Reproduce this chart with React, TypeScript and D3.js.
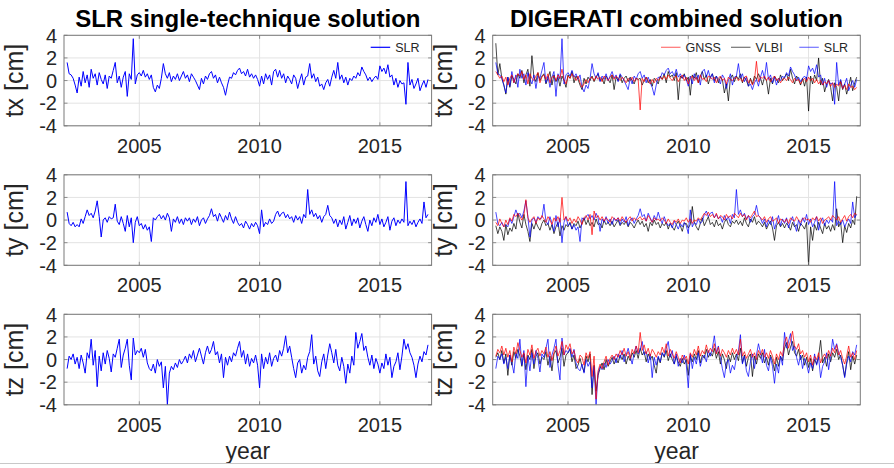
import React from "react";
import * as d3 from "d3";

const W = 894;
const H = 468;
const FONT = "'Liberation Sans', Arial, sans-serif";
const TXT = "#262626";

// monthly samples, 2002.0 .. 2017.0
const START_YEAR = 2002;
const N = 181;
const years = d3.range(N).map((i) => START_YEAR + i / 12);

const yTicks = [4, 2, 0, -2, -4];
const xTicks = [2005, 2010, 2015];

// SLR single-technique (also drawn as SLR in the combined panels)
const slrTx = [
  1.6, 0.6, 0.5, 0.2, -0.4, -1.1, 0.3, -0.5, 0.8, -0.2, 0.5, -0.6,
  1.0, 0.2, 0.6, -0.4, 0.7, 0.1, -0.3, 0.5, -0.7, 0.4, 0.2, 0.9,
  1.6, -0.2, 0.4, -0.6, 0.3, 0.8, -1.4, 0.6, 0.1, 3.7, -0.3, 0.5,
  0.7, 0.4, 0.9, 0.3, 0.6, 0.1, 0.5, -0.6, -1.0, -0.4, -0.7, 0.2,
  1.5, 0.6, 0.2, 0.7, -0.1, 0.4, 0.1, 0.6, 0.0, 0.4, 0.8, 0.2,
  0.5, -0.1, 0.6, 0.3, 0.0, -0.4, -0.8, 0.2, -0.3, 0.4, 0.1, 0.6,
  0.8, 0.2, 0.5, -0.2, 0.3, -0.2, -0.6, -1.3, -0.4, 0.3, 0.2, 0.7,
  0.5, 0.9, 1.1, 0.6, 0.8, 0.4, 1.0, 0.3, 0.6, 0.2, 0.5, 0.1,
  -0.5, 0.4, -0.3, 0.6, 0.1, 0.5, -0.4, 0.8, 1.0, 0.3, 0.9, 0.2,
  0.6, -0.2, 0.4, 0.1, -0.3, 0.5, 0.2, -0.7, 0.0, 0.6, -0.4, 0.3,
  0.4, 1.5, 0.2, 0.6, -0.1, 0.3, -0.5, -0.3, -0.8, -0.2, 0.1, -0.5,
  0.3, 0.9, 0.2, 1.6, 0.1, 0.5, -0.2, 0.3, -0.4, 0.2, 0.0, 0.4,
  0.2, 0.7, 0.4, 1.2, 0.8, 0.5, 0.0, 0.3, -0.1, 0.2, 0.4, 0.1,
  1.3, 0.8, 1.1, 0.6, 1.4, 0.3, 0.5, -0.4, 0.2, -0.6, 0.0, -0.3,
  -0.2, -2.1, 1.6, -0.4, 0.1, -0.7, -0.3, 0.2, -0.9, -0.4, 0.0, -0.6,
  0.1,
];
const slrTy = [
  0.7, -0.3, -0.5, -0.2, -0.6, -0.4, -0.6, 0.1, -0.3, 0.3, 0.9, 0.4,
  0.6, 0.2, 0.8, 1.7, 0.3, -1.5, 0.0, 0.2, -0.2, 0.3, 0.1, 0.2,
  1.4, -0.1, -0.4, 0.3, -0.3, -1.0, 0.4, -0.6, 0.2, -2.0, -0.2, 0.3,
  -0.5, -0.3, -0.8, -0.4, -0.9, -0.6, -1.9, 0.2, 0.0, 0.3, 0.5, 0.1,
  0.4, 0.0, 0.6, 0.2, -1.0, 0.1, -0.2, 0.3, -0.3, 0.1, -0.4, 0.2,
  -0.1, 0.2, -0.4, 0.1, -0.2, 0.3, -0.5, 0.0, 0.2, -0.3, 0.1, 0.4,
  1.0, 0.3, 0.5, -0.1, 0.6, 0.2, -0.2, 0.4, 0.0, 0.7, 0.1, -0.3,
  0.3, -0.2, -0.5, -0.3, -0.7, -0.1, -0.4, -0.8, -0.3, -0.6, -0.2, -0.5,
  -1.2, 0.9, -0.6, -0.2, -0.4, 0.1, -0.3, -0.1, 0.5, 0.8, 0.3, 0.6,
  0.7, 0.2, 0.5, 0.1, 0.3, -0.2, 0.4, 0.0, 0.3, -0.3, 0.5, 0.2,
  2.7, 0.5, 0.9, 0.3, 0.6, 0.1, 0.4, -0.2, 0.3, 0.5, 1.3, 0.4,
  0.2, -0.3, 0.1, -0.6, 0.0, -0.4, 0.3, -0.8, -0.2, 0.4, -0.5, 0.1,
  -0.3, 0.2, -0.7, -0.1, 0.3, -0.4, -1.0, 0.0, -0.5, 0.2, -0.2, 0.5,
  -0.4, 0.1, -0.6, -0.2, 0.3, -0.9, -0.1, 0.2, -0.5, 0.0, -0.3, 0.1,
  -0.2, 3.4, -0.5, -0.1, -0.4, 0.0, -0.6, -0.2, 0.1, -0.3, 1.6, 0.2,
  0.5,
];
const slrTz = [
  -0.8, 0.3, 0.0, 0.5, -0.4, 0.2, -0.8, 0.4, -0.3, -1.2, 0.6, 0.1,
  1.8, -0.5, 0.8, -2.4, 0.3, -1.0, 0.6, -0.4, 0.8, 0.1, -1.1, 0.5,
  0.2, 1.0, 1.8, -0.7, 0.4, 1.0, 1.8, -0.5, -1.8, 1.9, 0.4, 0.8,
  0.6, 1.0, 0.2, 0.9, -0.3, -0.8, -1.0, -0.4, -1.2, 0.0, -0.6, -0.2,
  -2.5, -0.6, -4.0, -1.2, -0.6, -0.9, -0.3, -0.7, 0.0, -0.4, -0.1, 0.3,
  -0.3, 0.5, 0.1, 0.8, -0.2, 0.4, 1.0, 0.3, -0.4, 0.6, 1.2, 0.5,
  0.9, 1.6, 0.4, 0.7, -0.3, 0.5, -1.6, 0.2, -0.5, 0.3, -0.2, 0.6,
  0.3, 1.0, 1.6, 0.2, 0.8, -0.4, 0.5, -0.6, 0.1, -0.3, 0.4, -0.5,
  -2.5, 0.5, -0.8, 0.2, -0.4, 0.6, -0.6, 0.1, 0.4, -0.2, 0.8, 0.3,
  1.0, 2.1, 0.6, 1.2, 0.2, -0.8, -1.6, -0.3, 0.0, -1.2, -0.5, -0.9,
  0.2, 0.7, 2.2, -0.4, 0.3, -1.0, -1.5, -0.2, 0.5, -0.8, 0.4, 1.4,
  0.6, -0.3, 0.9, -0.5, -1.0, 0.2, -0.6, -2.1, -0.4, -1.2, 0.3, -0.5,
  2.4, 1.0, 1.6, 2.3, 0.8, 1.2, 0.2, -0.5, 0.4, -0.8, 0.1, -0.4,
  -1.2, -0.3, -0.8, 0.5, -0.5, 0.2, -1.6, -0.6, -0.2, 0.6, -0.9, 0.3,
  1.8, 0.9, 1.4, 0.6, 0.2, -0.5, -1.6, -0.4, 0.3, -0.2, 0.7, 0.4,
  1.3,
];

// DIGERATI combined: GNSS
const gnssTx = [
  0.8, 0.5, 0.2, 0.4, -0.1, 0.3, -0.4, 0.2, 0.5, -0.2, 0.3, 0.6,
  0.4, 0.8, 0.1, 0.5, -0.3, 0.6, 0.2, 0.0, 0.4, 0.7, -0.2, 0.3,
  0.5, 0.1, 0.6, -0.2, 0.3, 0.4, 0.0, 0.5, 0.2, 1.0, 0.1, -0.3,
  0.4, 0.2, 0.6, 0.3, 0.0, 0.4, -0.2, -0.6, -0.3, 0.1, -0.2, 0.2,
  0.3, 0.0, 0.4, 0.1, 0.3, -0.1, 0.4, 0.2, 0.0, 0.3, 0.5, 0.1,
  0.4, 0.2, 0.0, 0.3, 0.1, -0.2, 0.2, 0.0, 0.3, -0.1, 0.2, 0.1,
  -2.6, 0.2, -0.1, 0.3, 0.0, -0.3, 0.1, -0.2, 0.2, 0.0, 0.3, 0.1,
  0.4, 0.1, 0.5, 0.2, 0.0, 0.3, 0.4, -0.1, 0.2, 0.5, 0.0, 0.3,
  -0.3, 0.2, 0.4, 0.0, 0.3, -0.2, 0.5, 0.1, 0.2, -0.1, 0.4, 0.3,
  0.1, 0.3, -0.2, 0.2, 0.4, 0.0, 0.2, -0.3, 0.3, 0.1, 0.0, 0.2,
  0.3, 0.0, 0.2, -0.1, 0.3, 0.4, -0.2, 0.1, -0.4, 0.0, 1.7, -0.1,
  0.3, 0.2, 0.4, 0.0, 0.3, -0.1, 0.2, 0.4, 0.0, 0.2, -0.2, 0.1,
  0.2, 0.0, 0.3, 0.1, -0.2, 0.2, 0.0, 0.1, -0.3, 0.0, 0.2, -0.1,
  0.3, 0.0, 0.2, -0.2, 0.1, -0.3, 0.0, -0.4, -0.1, -0.3, 0.0, -0.5,
  -0.2, -0.6, -0.3, -0.5, -0.1, -0.7, -0.4, -0.8, -0.3, -0.6, -0.5, -0.8,
  -0.6,
];
const gnssTy = [
  -0.2, -0.5, 0.1, -0.3, -0.6, 0.0, -0.4, 0.2, -0.1, 0.5, 0.3, 0.6,
  0.3, 0.0, 0.4, 1.8, 0.2, -0.2, 0.1, 0.3, -0.3, 0.2, 0.0, 0.4,
  0.1, -0.2, 0.3, 0.0, -0.4, 0.2, -0.1, 0.3, -0.2, 2.0, 0.0, 0.3,
  -0.1, 0.2, -0.3, 0.1, -0.2, 0.3, 0.0, -0.4, 0.2, 0.4, 0.0, 0.5,
  -1.3, 0.8, 0.2, 0.4, 0.0, 0.3, -0.1, 0.2, 0.0, -0.2, 0.3, 0.1,
  0.0, 0.2, -0.1, 0.3, 0.0, -0.2, 0.1, 0.3, -0.1, 0.2, 0.0, 0.1,
  0.3, 0.0, 0.2, -0.1, 0.4, 0.1, -0.2, 0.2, 0.0, 0.1, -0.1, 0.2,
  0.0, -0.3, 0.1, -0.2, -0.4, 0.0, -0.2, 0.1, -0.3, 0.0, -0.1, 0.2,
  -0.2, 0.1, -0.3, 0.0, -0.1, 0.2, 0.0, 0.3, 0.6, 0.4, 0.7, 0.3,
  0.5, 0.2, 0.6, 0.1, 0.4, 0.3, 0.0, 0.5, 0.2, 0.4, 0.1, 0.6,
  0.4, 0.2, 0.6, 0.3, 0.5, 0.0, 0.4, 0.2, 0.5, 0.8, 0.3, 0.4,
  0.2, 0.0, 0.3, -0.2, 0.1, 0.3, -0.1, 0.0, 0.2, -0.3, 0.1, 0.0,
  -0.2, 0.1, -0.3, 0.2, 0.0, -0.1, 0.3, 0.0, -0.2, 0.1, 0.2, 0.0,
  0.1, -0.2, 0.2, 0.0, 0.3, -0.1, 0.2, -0.3, 0.0, 0.1, 0.3, 0.0,
  0.4, 0.2, 0.0, 0.3, -0.2, 0.1, 0.4, -0.1, 0.3, 0.5, 0.2, 0.6,
  0.5,
];
const gnssTz = [
  0.3, 0.9, 0.6, 1.2, 0.4, 1.0, 0.2, 0.8, -0.2, 1.1, 0.5, 1.5,
  0.8, 0.2, 0.6, -0.3, 0.9, 0.4, 1.3, 0.1, 0.7, 1.0, 0.3, 0.8,
  0.5, 1.1, 0.2, 0.7, -0.1, 0.6, 1.2, 0.3, 0.8, 1.6, 0.4, 1.3,
  0.9, 1.4, 0.5, 0.8, 0.0, -0.3, 0.4, 0.2, -0.5, 0.6, 0.1, 0.7,
  -1.5, 0.3, -3.5, -1.0, -0.4, -0.8, -0.2, 0.3, -0.5, 0.1, 0.4, 0.0,
  0.5, 0.2, 0.8, 0.4, 1.0, 0.3, 0.7, 0.1, 0.9, 0.5, 1.2, 0.6,
  2.4, 0.8, 1.3, 0.5, 1.0, 0.3, 0.9, 0.6, 0.2, 0.7, 0.4, 1.1,
  0.6, 1.4, 0.3, 0.9, 0.5, 0.1, 0.7, 0.2, -0.3, 0.4, 0.0, 0.3,
  -0.4, 0.6, 0.2, 0.9, 0.4, 1.2, 0.3, 0.8, 0.5, 1.3, 0.6, 1.0,
  0.7, 1.4, 0.5, 1.1, 0.3, 0.9, 0.6, 0.2, 0.8, 0.4, 1.0, 0.5,
  0.9, 0.4, 1.8, 0.3, 0.7, 0.1, 0.5, 0.9, 0.2, 0.6, 0.0, 0.8,
  0.4, 0.9, 0.2, 0.6, 0.1, 0.8, 0.3, -0.4, 0.5, 0.0, 0.7, 0.3,
  1.5, 2.0, 1.0, 1.7, 2.5, 1.2, 0.9, 1.4, 0.5, 0.8, 0.2, 0.6,
  -0.2, 0.4, -0.5, 0.3, 0.0, 0.6, -0.3, 0.2, 0.5, 0.1, 0.8, 0.3,
  1.0, 0.6, 1.3, 0.4, 0.8, 0.1, -0.4, 0.3, 1.2, 0.2, 0.6, 0.0,
  0.8,
];

// DIGERATI combined: VLBI
const vlbiTx = [
  3.3, 0.5, 1.5, 0.2, -0.4, -1.2, 0.3, -0.6, 0.4, 0.1, -0.3, 0.6,
  0.2, 0.9, -0.2, 0.5, 1.0, -0.5, 2.2, 0.3, -0.1, 0.7, 0.0, 0.4,
  0.6, -0.3, 0.2, 0.8, -0.4, 0.5, -0.1, 0.3, -0.5, 0.4, 0.0, -0.6,
  0.5, 0.2, 0.8, -0.2, 0.4, 0.1, -0.4, -0.8, 0.2, -0.3, 0.3, 0.0,
  0.4, -0.1, 0.3, 0.6, 0.0, 0.2, -0.3, 0.4, 0.1, -0.2, 0.5, -0.8,
  0.3, 0.0, 0.5, -0.2, 0.2, 0.4, -0.1, 0.3, 0.0, -0.3, 0.2, 0.1,
  0.2, -0.4, 0.0, 0.3, -0.2, 0.1, -0.5, 0.2, 0.0, -0.3, 0.4, 0.1,
  0.6, -0.2, 0.8, 0.3, 0.5, 0.0, 0.7, -1.7, 0.4, 0.2, 0.6, 0.0,
  0.3, -1.3, 0.5, 0.2, 0.7, -0.2, 0.4, 0.8, 0.1, 0.5, -0.3, 0.3,
  0.6, 0.0, 0.4, -0.2, 0.3, 0.1, -1.1, -0.3, -1.8, 0.2, 0.5, -0.1,
  0.4, 0.1, 0.6, -0.2, 0.3, 0.0, -0.5, 0.2, -0.3, 0.4, 0.1, 0.6,
  0.2, -0.4, 0.3, 0.0, -1.2, 0.2, -0.3, 0.4, 0.1, -0.2, 0.5, 0.0,
  0.3, 0.6, 0.0, 1.0, 0.2, -0.3, 0.4, 0.1, -0.4, 0.2, -0.5, 0.3,
  -2.7, 0.4, -0.3, 0.5, 0.0, 2.0, -0.4, 0.2, -1.0, -0.3, 0.1, -0.6,
  -1.8, -0.2, -0.6, -1.8, 0.0, -0.8, -0.3, -1.2, -0.5, 0.3, -0.9, -0.2,
  0.3,
];
const vlbiTy = [
  -0.5, -1.2, -0.6, -1.0, -1.8, -0.4, -1.3, -0.7, -1.0, -0.3, -0.8, 0.6,
  -0.2, -0.7, 0.5, -0.4, -1.0, -1.9, -0.3, -0.8, -0.2, -0.6, -0.9, -0.3,
  0.0, -0.5, -0.3, -0.9, -0.4, -1.2, -0.6, -0.2, -1.4, -0.5, -0.9, -0.4,
  -0.6, -0.2, -0.8, -0.3, -0.5, -0.1, -0.7, -0.3, 0.2, -0.4, 0.0, -0.5,
  -0.2, -0.6, 0.1, -0.4, -0.3, -0.7, 0.0, -0.4, -0.2, -0.5, -0.1, -0.6,
  -0.3, 0.0, -0.5, -0.2, -0.4, -0.1, -0.6, -0.2, -0.4, -0.7, -0.3, 0.0,
  -0.4, -0.1, -0.6, -0.3, -1.0, -0.2, -0.5, 0.0, -0.4, -0.2, -0.7, -0.3,
  -0.5, -0.2, -0.8, -0.3, -0.6, -0.9, -0.4, -0.1, -0.5, -1.0, -0.3, -0.3,
  -0.7, -0.4, 1.2, -0.2, -0.6, -0.9, -0.3, 0.2, -0.5, -0.1, 0.3, -0.4,
  -0.2, -0.6, 0.0, -0.5, -0.3, -0.8, -0.2, 0.1, -0.4, -0.6, -0.1, -0.3,
  0.0, -0.4, -0.1, -0.5, 0.2, -0.3, -0.6, 0.1, -0.2, 0.3, -0.4, -0.1,
  -0.3, -0.6, -0.2, -0.8, -0.4, -0.1, -0.7, -1.8, -0.5, -0.2, -0.6, -0.3,
  -0.7, -0.3, -0.5, -0.9, -0.2, -0.6, -0.4, -1.0, -0.3, -0.5, -0.8, -0.2,
  -4.0, -0.6, -1.8, -0.4, -0.9, -0.2, -0.7, -1.2, -0.3, -0.8, -0.5, -1.0,
  -0.4, -0.9, 1.0, -0.6, -0.2, -2.0, -0.5, -1.1, -0.3, -0.7, 0.0, -0.4,
  2.1,
];
const vlbiTz = [
  0.2, 0.6, 0.0, 0.8, -0.3, 0.5, -1.4, 0.4, -0.5, 0.7, 0.1, 0.9,
  0.3, -0.6, 0.5, -0.9, 0.4, 0.0, 0.9, -0.8, 0.3, 0.6, -0.4, 0.2,
  0.0, 0.7, -0.5, 0.3, -1.0, 0.5, 0.8, -0.3, 0.2, 1.0, -0.6, 0.4,
  0.6, 0.9, -0.2, 0.4, -0.8, -0.5, 0.1, -0.6, -1.1, 0.3, -0.2, 0.5,
  -3.1, -0.5, -2.8, -1.4, -0.8, -0.3, -0.9, 0.0, -0.6, -0.2, 0.2, -0.4,
  0.1, -0.3, 0.4, 0.0, 0.5, -0.4, 0.3, -0.1, 0.6, 0.2, 0.8, 0.1,
  1.0, 0.4, 0.7, -0.2, 0.5, 0.0, 0.3, -0.5, -1.2, 0.2, -0.3, 0.6,
  0.2, 0.8, -0.1, 0.5, 0.0, -0.4, 0.3, -0.2, -0.6, 0.1, -0.4, 0.0,
  -1.4, 0.3, -0.2, 0.5, 0.0, 0.8, -0.3, 0.4, 0.1, 0.9, 0.2, 0.6,
  0.3, 1.0, 0.1, 0.7, -0.4, 0.5, 0.0, -0.8, 0.4, -0.2, 0.6, 0.0,
  0.5, -0.1, 1.0, -0.3, 0.4, -0.6, 0.2, 0.5, -1.5, 0.3, -0.4, 0.5,
  0.1, 0.6, -0.3, 0.2, -0.5, 0.4, -0.1, -1.0, 0.2, -0.6, 0.3, -0.1,
  1.0, 1.5, 0.4, 1.1, 1.6, 0.6, 0.3, 0.9, 0.0, 0.4, -0.5, 0.2,
  -0.7, 0.1, -1.0, 0.0, -0.4, 0.3, 1.7, -0.3, 0.2, -0.6, 0.5, -0.2,
  0.6, 0.2, 0.9, 0.0, 0.4, -0.5, -1.5, -0.2, 0.7, -0.9, 0.3, -0.4,
  0.4,
];

const components = [
  { label: "tx [cm]", slr: slrTx, gnss: gnssTx, vlbi: vlbiTx },
  { label: "ty [cm]", slr: slrTy, gnss: gnssTy, vlbi: vlbiTy },
  { label: "tz [cm]", slr: slrTz, gnss: gnssTz, vlbi: vlbiTz },
];

const columns = [
  { title: "SLR single-technique solution", left: 64, combined: false },
  { title: "DIGERATI combined solution", left: 492.7, combined: true },
];

const PLOT_W = 367.6;
const PLOT_H = 90.5;
const ROW_TOPS = [35.3, 174.8, 314.3];

const Panel: React.FC<{
  left: number;
  top: number;
  comp: (typeof components)[number];
  combined: boolean;
  legend: boolean;
  id: string;
}> = ({ left, top, comp, combined, legend, id }) => {
  const x = d3.scaleLinear().domain([2001.87, 2017.15]).range([left, left + PLOT_W]);
  const y = d3.scaleLinear().domain([-4, 4]).range([top + PLOT_H, top]);
  const line = (vals: number[]) =>
    d3
      .line<number>()
      .x((_, i) => x(years[i]))
      .y((d) => y(d))(vals) || "";

  const series = combined
    ? [
        { name: "VLBI", vals: comp.vlbi, color: "#000000" },
        { name: "SLR", vals: comp.slr, color: "#0000ff" },
        { name: "GNSS", vals: comp.gnss, color: "#ff0000" },
      ]
    : [{ name: "SLR", vals: comp.slr, color: "#0000ff" }];
  const alpha = combined ? 0.72 : 1;
  const bottom = top + PLOT_H;
  const right = left + PLOT_W;

  const legendItems = combined
    ? [
        { name: "GNSS", color: "#ff0000", x0: 661 },
        { name: "VLBI", color: "#000000", x0: 731 },
        { name: "SLR", color: "#0000ff", x0: 799.3 },
      ]
    : [{ name: "SLR", color: "#0000ff", x0: 370.7 }];

  return (
    <g>
      <defs>
        <clipPath id={id}>
          <rect x={left} y={top} width={PLOT_W} height={PLOT_H} />
        </clipPath>
      </defs>
      <rect x={left} y={top} width={PLOT_W} height={PLOT_H} fill="#fff" />
      {yTicks.map((t) => (
        <line key={"gy" + t} x1={left} x2={right} y1={y(t)} y2={y(t)} stroke="#e3e3e3" strokeWidth={1} />
      ))}
      {xTicks.map((t) => (
        <line key={"gx" + t} x1={x(t)} x2={x(t)} y1={top} y2={bottom} stroke="#e3e3e3" strokeWidth={1} />
      ))}
      <g clipPath={`url(#${id})`}>
        {series.map((s) => (
          <path
            key={s.name}
            d={line(s.vals)}
            fill="none"
            stroke={s.color}
            strokeOpacity={alpha}
            strokeWidth={1}
            strokeLinejoin="round"
          />
        ))}
      </g>
      {/* inner ticks */}
      {yTicks.map((t) => (
        <g key={"ty" + t}>
          <line x1={left} x2={left + 3.5} y1={y(t)} y2={y(t)} stroke="#777" strokeWidth={0.8} />
          <line x1={right - 3.5} x2={right} y1={y(t)} y2={y(t)} stroke="#777" strokeWidth={0.8} />
        </g>
      ))}
      {xTicks.map((t) => (
        <g key={"tx" + t}>
          <line x1={x(t)} x2={x(t)} y1={bottom} y2={bottom - 3.5} stroke="#777" strokeWidth={0.8} />
          <line x1={x(t)} x2={x(t)} y1={top} y2={top + 3.5} stroke="#777" strokeWidth={0.8} />
        </g>
      ))}
      <rect x={left} y={top} width={PLOT_W} height={PLOT_H} fill="none" stroke="#7a7a7a" strokeWidth={1} />
      {yTicks.map((t) => (
        <text key={"ly" + t} x={left - 7} y={y(t)} dy="0.36em" textAnchor="end" fontSize={20} fill={TXT}>
          {t}
        </text>
      ))}
      {xTicks.map((t) => (
        <text key={"lx" + t} x={x(t)} y={bottom + 27} textAnchor="middle" fontSize={20} fill={TXT}>
          {t}
        </text>
      ))}
      <text
        transform={`translate(${left - 41},${top + PLOT_H / 2}) rotate(-90)`}
        textAnchor="middle"
        fontSize={25}
        fill={TXT}
      >
        {comp.label}
      </text>
      {legend &&
        legendItems.map((it) => (
          <g key={it.name}>
            <line
              x1={it.x0}
              x2={it.x0 + 19.5}
              y1={top + 12}
              y2={top + 12}
              stroke={it.color}
              strokeOpacity={combined ? 0.55 : 1}
              strokeWidth={1.2}
            />
            <text x={it.x0 + 24.5} y={top + 12} dy="0.36em" fontSize={12.5} fill={TXT}>
              {it.name}
            </text>
          </g>
        ))}
    </g>
  );
};

export default function App() {
  return (
    <svg
      width={W}
      height={H}
      style={{ position: "absolute", left: 0, top: 0, display: "block", fontFamily: FONT, background: "#fff" }}
    >
      <rect width={W} height={H} fill="#fff" />
      {columns.map((col, ci) => (
        <g key={col.title}>
          <text
            x={col.left + PLOT_W / 2}
            y={27}
            textAnchor="middle"
            fontSize={24}
            fontWeight="bold"
            fill="#000"
          >
            {col.title}
          </text>
          {components.map((comp, ri) => (
            <Panel
              key={comp.label}
              id={`clip-${ci}-${ri}`}
              left={col.left}
              top={ROW_TOPS[ri]}
              comp={comp}
              combined={col.combined}
              legend={ri === 0}
            />
          ))}
          <text x={col.left + PLOT_W / 2} y={459} textAnchor="middle" fontSize={23} fill={TXT}>
            year
          </text>
        </g>
      ))}
      <line x1={0} x2={W} y1={463.5} y2={463.5} stroke="#c8c8c8" strokeWidth={1} />
    </svg>
  );
}
